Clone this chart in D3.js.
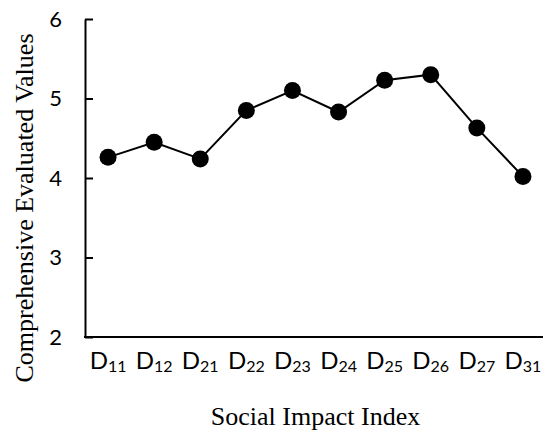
<!DOCTYPE html>
<html>
<head>
<meta charset="utf-8">
<script src="https://cdn.jsdelivr.net/npm/d3@7/dist/d3.min.js"></script>
<style>
  body { margin: 0; background: #fff; }
  svg { display: block; }
</style>
</head>
<body>
<div id="chart"></div>
<script>
var categories = ['11', '12', '21', '22', '23', '24', '25', '26', '27', '31'];
var values = [4.26, 4.45, 4.24, 4.85, 5.10, 4.83, 5.23, 5.30, 4.63, 4.02];
var yTicks = [2, 3, 4, 5, 6];

var width = 543,
    height = 437,
    margin = {top: 19, right: -3, bottom: 100, left: 85};

var svg = d3.select('#chart').append('svg')
    .attr('width', width)
    .attr('height', height);

var xScale = d3.scaleBand()
    .domain(categories)
    .range([margin.left, width - margin.right])
    .padding(0);

var yScale = d3.scaleLinear()
    .domain([2, 6])
    .range([height - margin.bottom, margin.top]);

// y axis, ticks point inward
var yAxis = d3.axisLeft(yScale)
    .tickValues(yTicks)
    .tickFormat(d3.format('d'))
    .tickSizeInner(-8)
    .tickSizeOuter(0)
    .tickPadding(23);
var gy = svg.append('g')
    .attr('transform', 'translate(' + margin.left + ',0)')
    .call(yAxis);
gy.select('.domain').attr('stroke', '#000').attr('stroke-width', 2);
gy.selectAll('.tick line').attr('stroke', '#000').attr('stroke-width', 2);
gy.selectAll('.tick text')
    .style('font-family', 'Lato, "Open Sans", sans-serif')
    .style('font-size', '22px')
    .attr('fill', '#000');

// x axis line
svg.append('line')
    .attr('x1', margin.left - 1)
    .attr('x2', width)
    .attr('y1', yScale(2))
    .attr('y2', yScale(2))
    .attr('stroke', '#000')
    .attr('stroke-width', 2);

// x labels with subscripts
var xl = svg.append('g').selectAll('text')
    .data(categories)
    .enter().append('text')
    .attr('x', function(d) { return xScale(d) + xScale.bandwidth() / 2; })
    .attr('y', 369)
    .attr('text-anchor', 'middle')
    .style('font-family', 'Lato, "Open Sans", sans-serif')
    .style('font-size', '24px')
    .attr('fill', '#000');
xl.append('tspan').text('D');
xl.append('tspan')
    .attr('dy', 3)
    .style('font-size', '16px')
    .text(function(d) { return d; });

// line + markers
var line = d3.line()
    .x(function(d, i) { return xScale(categories[i]) + xScale.bandwidth() / 2; })
    .y(function(d) { return yScale(d); });

svg.append('path')
    .datum(values)
    .attr('d', line)
    .attr('fill', 'none')
    .attr('stroke', '#000')
    .attr('stroke-width', 2);

svg.append('g').selectAll('circle')
    .data(values)
    .enter().append('circle')
    .attr('cx', function(d, i) { return xScale(categories[i]) + xScale.bandwidth() / 2; })
    .attr('cy', function(d) { return yScale(d); })
    .attr('r', 8.5)
    .attr('fill', '#000');

// axis titles
svg.append('text')
    .attr('x', (margin.left + width - margin.right) / 2)
    .attr('y', 425)
    .attr('text-anchor', 'middle')
    .style('font-family', '"Liberation Serif", "Times New Roman", serif')
    .style('font-size', '26px')
    .text('Social Impact Index');

svg.append('text')
    .attr('transform', 'translate(33,' + 208 + ') rotate(-90)')
    .attr('text-anchor', 'middle')
    .style('font-family', '"Liberation Serif", "Times New Roman", serif')
    .style('font-size', '26px')
    .text('Comprehensive Evaluated Values');
</script>
</body>
</html>
